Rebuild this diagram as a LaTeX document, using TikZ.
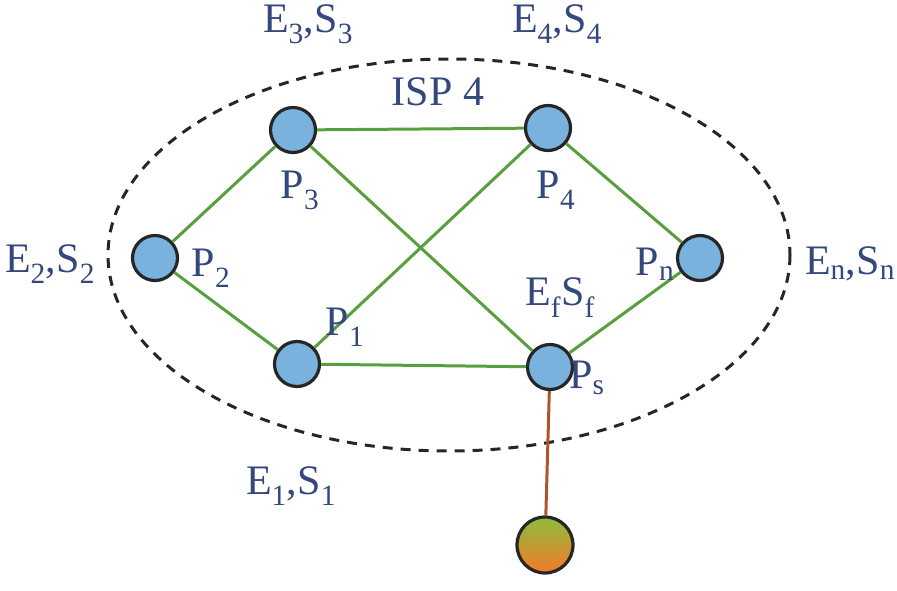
\documentclass[tikz,border=0pt]{standalone}
\usepackage{fontspec}
\setmainfont{Liberation Serif}
\definecolor{txtblue}{RGB}{52,72,125}
\definecolor{nodeblue}{RGB}{122,178,222}
\definecolor{edgegreen}{RGB}{88,160,62}
\definecolor{edgebrown}{RGB}{170,85,45}
\definecolor{topgreen}{RGB}{140,190,60}
\definecolor{botorange}{RGB}{245,120,40}
\begin{document}
\begin{tikzpicture}[x=1pt,y=-1pt,
  peer/.style={circle,draw=black!85,line width=3.2pt,fill=nodeblue,minimum size=45pt,inner sep=0pt},
  host/.style={circle,draw=black!85,line width=3.2pt,top color=topgreen,bottom color=botorange,minimum size=56pt,inner sep=0pt},
  link/.style={draw=edgegreen,line width=3pt},
  uplink/.style={draw=edgebrown,line width=3pt},
  lbl/.style={text=txtblue,font=\fontsize{42}{48}\selectfont,inner sep=0pt},
  isp/.style={draw=black!85,line width=3pt,dash pattern=on 10pt off 8pt}
]
\useasboundingbox (0,0) rectangle (897,591);
\draw[isp] (449,255) ellipse [x radius=341, y radius=196];
\node[peer] (p3) at (293,130) {};
\node[peer] (p4) at (548,128) {};
\node[peer] (p2) at (155,258) {};
\node[peer] (pn) at (700,258) {};
\node[peer] (p1) at (297,364) {};
\node[peer] (ps) at (550,367) {};
\node[host] (h) at (545,545) {};
\draw[link] (p3) -- (p4);
\draw[link] (p3) -- (p2);
\draw[link] (p3) -- (ps);
\draw[link] (p4) -- (p1);
\draw[link] (p4) -- (pn);
\draw[link] (p2) -- (p1);
\draw[link] (p1) -- (ps);
\draw[link] (ps) -- (pn);
\draw[uplink] (ps) -- (h);
\node[lbl] (l3) at (308,24) {E\textsubscript{3},S\textsubscript{3}};
\node[lbl] (l4) at (557,24) {E\textsubscript{4},S\textsubscript{4}};
\node[lbl] (isplbl) at (438,92) {ISP 4};
\node[lbl] (l2) at (50,264) {E\textsubscript{2},S\textsubscript{2}};
\node[lbl] (n2) at (211,268) {P\textsubscript{2}};
\node[lbl] (n3) at (300,190) {P\textsubscript{3}};
\node[lbl] (n4) at (556,190) {P\textsubscript{4}};
\node[lbl] (nn) at (655,264) {P\textsubscript{n}};
\node[lbl] (ln) at (850,264) {E\textsubscript{n},S\textsubscript{n}};
\node[lbl] (lf) at (560,298) {E\textsubscript{f}S\textsubscript{f}};
\node[lbl] (n1) at (345,327) {P\textsubscript{1}};
\node[lbl] (ns) at (587,378) {P\textsubscript{s}};
\node[lbl] (l1) at (291,486) {E\textsubscript{1},S\textsubscript{1}};
\end{tikzpicture}
\end{document}
